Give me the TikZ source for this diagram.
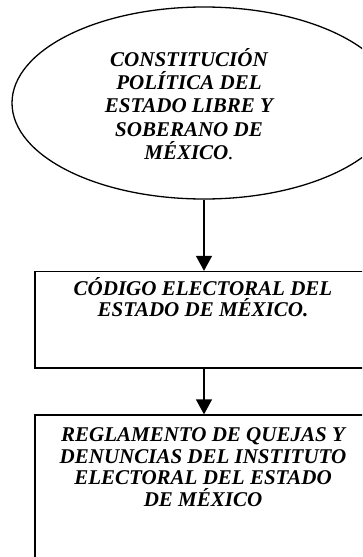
\documentclass[tikz,border=0pt]{standalone}
\usepackage{fontspec}
\setmainfont{Liberation Serif}
\usetikzlibrary{shapes.geometric,arrows.meta}

\tikzset{
  caja/.style={draw, black, line width=1.3pt, rectangle, minimum width=338pt, inner sep=0pt},
  texto/.style={align=center, inner sep=0pt, font=\bfseries\itshape\fontsize{21}{21.5}\selectfont},
  textoelipse/.style={texto, font=\bfseries\itshape\fontsize{21}{23.3}\selectfont},
  flecha/.style={black, line width=1.3pt, -{Triangle[width=16pt,length=15pt]}}
}

\begin{document}
\begin{tikzpicture}[x=1pt,y=-1pt]
\useasboundingbox (0,0) rectangle (362,557);
\clip (0,0) rectangle (362,557);

\coordinate (c1) at (204,103);\coordinate (c2) at (204,319.75);\coordinate (c3) at (204,500);

\node[draw, ellipse, line width=1.3pt, minimum width=384pt, minimum height=192pt, inner sep=0pt] (constitucion) at (c1) {};
\node[caja, minimum height=96.5pt] (codigo) at (c2) {};
\node[caja, minimum height=170pt] (reglamento) at (c3) {};

\node[textoelipse] (tconstitucion) at (189,104) {CONSTITUCIÓN\\POLÍTICA DEL\\ESTADO LIBRE Y\\SOBERANO DE\\MÉXICO{\mdseries.}};
\node[texto] (tcodigo) at (203,297) {CÓDIGO ELECTORAL DEL\\ESTADO DE MÉXICO.};
\node[texto] (treglamento) at (203,467) {REGLAMENTO DE QUEJAS Y\\DENUNCIAS DEL INSTITUTO\\ELECTORAL DEL ESTADO\\DE MÉXICO};

\draw[flecha] (constitucion.south) -- (codigo.north);
\draw[flecha] (codigo.south) -- (reglamento.north);

\end{tikzpicture}
\end{document}
